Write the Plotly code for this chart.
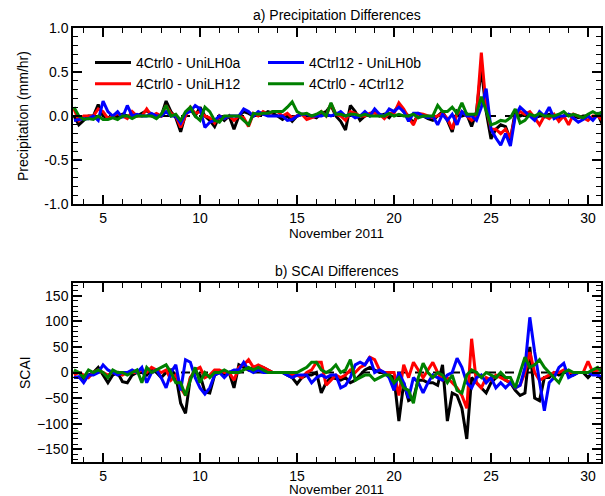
import numpy as np
import plotly.graph_objects as go

# 6-hourly times, Nov 3.5 .. Nov 30.75
days = [3.5, 3.75] + [d + q for d in range(4, 31) for q in (0.0, 0.25, 0.5, 0.75)]

# ---- a) Precipitation differences (mm/hr) ----
pr_ctrl0_unilh0a = [
    0.00, -0.10,
    -0.05, 0.00, 0.00, 0.13,
    0.00, -0.02, 0.00, -0.02,
    0.02, 0.00, 0.00, 0.00,
    0.03, 0.06, 0.02, 0.00,
    0.00, 0.17, 0.05, -0.02,
    -0.18, 0.02, 0.08, 0.00,
    0.10, 0.00, -0.05, -0.12,
    0.00, -0.05, 0.00, -0.15,
    0.00, 0.05, 0.03, 0.00,
    0.02, 0.02, 0.05, 0.03,
    0.00, -0.04, 0.00, -0.06,
    0.00, 0.02, 0.00, 0.00,
    -0.02, 0.03, 0.05, 0.12,
    0.00, -0.06, -0.16, 0.12,
    0.05, -0.05, 0.00, 0.02,
    0.06, 0.00, 0.02, -0.02,
    0.05, 0.12, 0.05, 0.00,
    -0.08, 0.02, 0.00, -0.03,
    -0.05, 0.00, 0.05, -0.05,
    -0.18, 0.05, 0.00, 0.02,
    -0.12, 0.05, 0.55, 0.05,
    -0.26, -0.15, -0.10, -0.12,
    -0.27, 0.05, 0.00, 0.02,
    0.02, -0.02, 0.00, 0.00,
    0.02, 0.00, -0.03, 0.00,
    0.02, 0.00, -0.02, 0.00,
    0.00, -0.04, 0.02, -0.10,
]
pr_ctrl0_unilh12 = [
    0.08, -0.05,
    0.00, 0.00, 0.00, 0.08,
    0.05, -0.03, 0.00, 0.03,
    0.00, -0.03, 0.05, 0.00,
    0.00, 0.08, 0.00, 0.03,
    0.00, 0.12, 0.03, 0.00,
    -0.13, 0.00, 0.10, 0.03,
    0.05, 0.00, -0.02, -0.08,
    0.00, -0.03, 0.00, -0.05,
    0.00, -0.02, -0.12, 0.03,
    0.00, 0.05, 0.02, 0.05,
    0.05, 0.00, 0.03, -0.02,
    0.00, 0.02, -0.04, -0.02,
    0.00, 0.05, 0.00, 0.14,
    0.02, 0.00, -0.05, 0.05,
    0.03, 0.00, 0.00, 0.03,
    0.03, 0.02, -0.03, 0.03,
    0.03, 0.15, 0.08, -0.02,
    -0.10, 0.03, 0.02, 0.00,
    -0.02, 0.00, 0.03, -0.03,
    -0.15, 0.03, 0.05, 0.00,
    -0.05, 0.00, 0.72, 0.10,
    -0.15, -0.15, -0.20, -0.15,
    -0.25, 0.00, 0.05, 0.02,
    0.05, -0.02, -0.10, 0.00,
    -0.03, 0.02, -0.06, 0.00,
    -0.10, 0.02, 0.00, -0.02,
    -0.05, 0.00, 0.00, -0.05,
]
pr_ctrl12_unilh0b = [
    -0.05, -0.04,
    -0.03, -0.03, 0.00, -0.05,
    0.17, 0.05, 0.00, 0.05,
    -0.02, 0.12, 0.00, 0.02,
    0.00, 0.00, 0.03, 0.00,
    0.00, 0.05, 0.00, 0.00,
    -0.08, 0.03, 0.05, 0.12,
    0.08, -0.13, -0.07, -0.05,
    0.00, -0.03, 0.00, 0.00,
    0.00, 0.08, 0.05, 0.00,
    0.05, 0.02, 0.00, 0.00,
    0.00, 0.00, -0.05, -0.04,
    0.00, 0.02, 0.02, 0.00,
    0.00, 0.00, 0.02, 0.00,
    0.02, 0.05, 0.00, 0.02,
    -0.02, 0.00, 0.05, 0.00,
    0.08, 0.02, 0.00, 0.08,
    0.05, 0.10, 0.05, -0.06,
    0.03, 0.03, 0.00, -0.02,
    0.00, -0.10, 0.02, -0.05,
    0.02, -0.10, 0.05, 0.00,
    0.00, -0.05, 0.10, 0.31,
    -0.15, -0.25, -0.33, -0.20,
    -0.34, 0.00, 0.10, 0.05,
    0.00, -0.05, 0.05, 0.00,
    0.10, -0.03, 0.00, 0.00,
    0.02, -0.03, -0.07, -0.04,
    0.00, -0.05, 0.02, 0.03,
]
pr_ctrl0_ctrl12 = [
    0.10, 0.00,
    -0.04, -0.03, -0.04, 0.00,
    -0.04, -0.04, -0.02, -0.04,
    0.00, 0.00, -0.03, 0.00,
    0.00, 0.00, 0.00, -0.03,
    0.02, 0.12, 0.00, 0.02,
    -0.05, 0.05, 0.10, 0.00,
    -0.05, 0.10, 0.05, -0.05,
    -0.07, 0.00, 0.00, 0.00,
    0.00, -0.05, -0.10, 0.03,
    0.02, 0.03, 0.03, 0.05,
    0.05, 0.05, 0.10, 0.16,
    0.05, 0.02, 0.03, 0.00,
    0.02, 0.05, 0.00, 0.15,
    0.02, 0.02, 0.00, 0.02,
    0.02, 0.00, 0.02, 0.00,
    0.00, 0.00, 0.00, 0.03,
    0.00, 0.02, 0.00, 0.00,
    0.02, -0.02, 0.00, 0.00,
    0.00, 0.12, 0.05, 0.05,
    0.10, 0.03, 0.15, 0.02,
    0.02, 0.02, 0.22, 0.05,
    -0.10, -0.08, -0.05, -0.06,
    -0.02, 0.08, -0.08, -0.05,
    0.02, 0.00, 0.03, 0.00,
    0.00, 0.00, 0.02, 0.05,
    0.00, 0.02, 0.00, -0.02,
    0.02, 0.05, 0.02, 0.05,
]

# ---- b) SCAI differences ----
scai_ctrl0_unilh0a = [
    -10, -10,
    -12, -5, 0, 10,
    -5, -20, -5, 0,
    -18, -20, -5, 0,
    0, -5, 5, 0,
    -10, 0, 5, -5,
    -60, -80, -10, 0,
    -5, -38, -40, -5,
    0, -5, 0, -30,
    15, 10, 5, 10,
    12, 10, 5, 0,
    0, 0, -5, -10,
    -22, -10, -5, -5,
    0, -40, -20, -10,
    -12, -15, -10, -20,
    -15, -5, 5, 10,
    5, 0, 0, -5,
    -10, -95, -20, -55,
    -50, -15, -15, -20,
    -20, -25, 15, -95,
    -40, -45, -70, -130,
    -10, -20, -30, -40,
    -20, -10, -5, -15,
    -20, -35, -45, -40,
    50, -50, -55, -10,
    -10, 0, -5, 0,
    0, -5, 0, 0,
    -10, 0, -5, -15,
]
scai_ctrl0_unilh12 = [
    -5, 0,
    -5, -10, 0, 5,
    0, -5, 0, 0,
    -5, 0, 0, 0,
    5, 0, 10, 5,
    0, 5, -15, -5,
    -30, -45, -10, 5,
    10, -10, -5, 5,
    5, 0, 0, -15,
    10, 15, 25, 10,
    15, 10, 5, 0,
    0, 0, 0, -5,
    -5, -10, 0, 5,
    20, 20, -25, -15,
    -5, -10, -5, 5,
    0, 10, 15, 30,
    25, 5, 0, 0,
    0, -45, 15, -10,
    20, 5, -10, 5,
    20, 0, -15, -10,
    -20, -30, -45, -70,
    66, -20, -30, -10,
    -15, -5, -10, -15,
    -20, -30, -25, 0,
    40, 0, -15, -10,
    -5, 0, 0, 5,
    0, 0, 0, 0,
    22, 0, 5, 10,
]
scai_ctrl12_unilh0b = [
    -10, -8,
    -20, -5, -5, 0,
    15, 5, 0, -5,
    0, 0, 5, 0,
    10, -20, 0, 5,
    -10, -30, 0, 15,
    -35, 25, 20, -10,
    -30, -42, -30, -5,
    0, -10, 0, 5,
    5, 20, 5, 0,
    5, 0, 0, 0,
    0, 0, -5, -10,
    -5, -5, -5, -20,
    -10, -5, -10, -5,
    -5, -30, -25, -10,
    15, 20, 15, 30,
    0, 5, 0, -10,
    -35, 0, -20, -50,
    -10, -20, -40, -20,
    -5, -10, -15, -5,
    0, 28, 10, -20,
    -30, -10, -5, -20,
    -10, -30, -20, -30,
    -20, -30, -25, 10,
    108, 40, -20, -75,
    -20, -10, 10, 18,
    -10, -5, 0, 0,
    0, -5, -5, -10,
]
scai_ctrl0_ctrl12 = [
    5, 0,
    -10, 5, 0, 5,
    0, -10, 5, 0,
    0, -5, 0, 5,
    -20, 10, 0, 5,
    10, 15, 0, -20,
    -20, -45, -15, 10,
    -20, 0, -10, 0,
    0, 5, 0, 0,
    0, 5, 10, 5,
    10, 5, 0, 0,
    0, 0, 0, 0,
    0, 5, 10, 20,
    20, 5, 0, 5,
    15, 0, 5, 25,
    -15, -10, -5, -5,
    -15, -10, -5, -5,
    -20, -10, -30, -35,
    -60, -10, 18, 0,
    -10, 0, -5, -20,
    -5, -35, -40, -5,
    5, 0, -10, 0,
    -5, -10, 0, -10,
    -10, -30, 0, 30,
    10, 15, 25, 10,
    0, -10, -20, 0,
    5, 0, 0, 0,
    0, 5, 10, 0,
]

names = ["4Ctrl0 - UniLH0a", "4Ctrl0 - UniLH12", "4Ctrl12 - UniLH0b", "4Ctrl0 - 4Ctrl12"]
colors = ["#000000", "#ff0000", "#0000ff", "#008000"]
legends = ["legend", "legend", "legend2", "legend2"]
precip = [pr_ctrl0_unilh0a, pr_ctrl0_unilh12, pr_ctrl12_unilh0b, pr_ctrl0_ctrl12]
scai = [scai_ctrl0_unilh0a, scai_ctrl0_unilh12, scai_ctrl12_unilh0b, scai_ctrl0_ctrl12]

FONT = "Liberation Sans, Arial, sans-serif"
W, H = 605, 496

fig = go.Figure()
for n, c, lg, p in zip(names, colors, legends, precip):
    fig.add_trace(go.Scatter(x=days, y=p, mode="lines", name=n, legend=lg,
                             line=dict(color=c, width=3), xaxis="x", yaxis="y"))
for n, c, s in zip(names, colors, scai):
    fig.add_trace(go.Scatter(x=days, y=s, mode="lines", name=n, showlegend=False,
                             line=dict(color=c, width=3), xaxis="x2", yaxis="y2"))

xdom = [73 / W, 601 / W]
ydom1 = [1 - 204 / H, 1 - 28 / H]
ydom2 = [1 - 462 / H, 1 - 283 / H]

axis_common = dict(showline=True, linecolor="black", linewidth=1.5, mirror="ticks",
                   ticks="inside", tickcolor="black", tickwidth=1.5, showgrid=False,
                   zeroline=False, automargin=False,
                   tickfont=dict(family=FONT, size=14, color="black"))

xcommon = dict(axis_common, range=[3.45, 30.67], tickvals=[5, 10, 15, 20, 25, 30],
               ticklen=9, minor=dict(ticks="inside", dtick=1, tick0=0, ticklen=5,
                                      tickcolor="black", tickwidth=1.2, showgrid=False))

fig.update_layout(
    width=W, height=H, margin=dict(l=0, r=0, t=0, b=0, autoexpand=False),
    paper_bgcolor="white", plot_bgcolor="white",
    font=dict(family=FONT, size=14, color="black"),
    xaxis=dict(xcommon, domain=xdom, anchor="y"),
    yaxis=dict(axis_common, domain=ydom1, anchor="x", range=[-1, 1],
               tickvals=[-1, -0.5, 0, 0.5, 1], ticktext=["-1.0", "-0.5", "0.0", "0.5", "1.0"],
               ticklen=9, minor=dict(ticks="inside", dtick=0.1, ticklen=5, tickcolor="black",
                                     tickwidth=1.2, showgrid=False)),
    xaxis2=dict(xcommon, domain=xdom, anchor="y2"),
    yaxis2=dict(axis_common, domain=ydom2, anchor="x2", range=[-175, 175],
                tickvals=[-150, -100, -50, 0, 50, 100, 150],
                ticklen=9, minor=dict(ticks="inside", dtick=10, ticklen=5, tickcolor="black",
                                      tickwidth=1.2, showgrid=False)),
    legend=dict(x=90 / W, y=1 - 47 / H, xanchor="left", yanchor="top",
                bgcolor="rgba(0,0,0,0)", font=dict(family=FONT, size=14),
                tracegroupgap=0, itemwidth=36),
    legend2=dict(x=263 / W, y=1 - 47 / H, xanchor="left", yanchor="top",
                 bgcolor="rgba(0,0,0,0)", font=dict(family=FONT, size=14),
                 tracegroupgap=0, itemwidth=36),
    showlegend=True,
)

# dashed zero lines
for xr, yr in (("x domain", "y"), ("x2 domain", "y2")):
    fig.add_shape(type="line", xref=xr, yref=yr, x0=0, x1=1, y0=0, y1=0,
                  line=dict(color="black", width=1.8, dash="dash"), layer="below")

xc = (xdom[0] + xdom[1]) / 2
texts = [
    ("a) Precipitation Differences", xc, 15, 0, 14),
    ("b) SCAI Differences", xc, 271, 0, 14),
    ("November 2011", xc, 233, 0, 13.5),
    ("November 2011", xc, 489, 0, 13.5),
    ("Precipitation (mm/hr)", 23 / W, 116, -90, 14),
    ("SCAI", 25 / W, 373, -90, 14),
]
for t, x, ypx, ang, fs in texts:
    fig.add_annotation(text=t, x=x, y=1 - ypx / H, xref="paper", yref="paper",
                       xanchor="center", yanchor="middle", showarrow=False, textangle=ang,
                       font=dict(family=FONT, size=fs, color="black"))

fig.write_html("out.html")
